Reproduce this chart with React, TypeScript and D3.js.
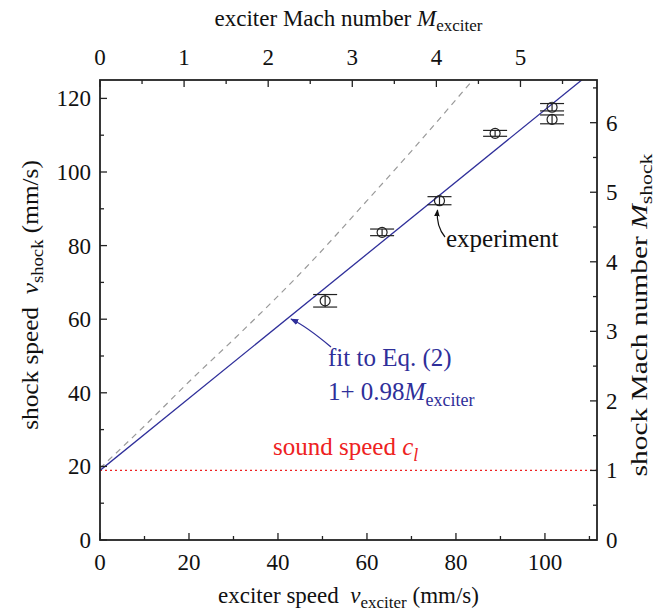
import React from "react";
import * as d3 from "d3";

// ---- data ----
const experimentX = [50.6, 63.4, 76.3, 88.8, 101.6, 101.6];
const experimentY = [65.0, 83.6, 92.2, 110.5, 117.6, 114.3];
const experimentErr = [1.7, 0.9, 1.1, 0.8, 1.0, 1.2];

const soundSpeed = 18.9; // c_l in mm/s
const fitSlope = 0.98;

// gray dashed curve
const dashedX = [0, 10, 20, 31.5, 47.9, 60, 70, 83.5];
const dashedY = [19.5, 31, 43, 56.2, 76.1, 92.2, 105.7, 124.6];

const xTicksMajor = [0, 20, 40, 60, 80, 100];
const xTicksMinor = [10, 30, 50, 70, 90, 110];
const yTicksMajor = [0, 20, 40, 60, 80, 100, 120];
const yTicksMinor = [10, 30, 50, 70, 90, 110];
const topTicksMajor = [0, 1, 2, 3, 4, 5];
const topTicksMinor = [0.5, 1.5, 2.5, 3.5, 4.5, 5.5];
const rightTicksMajor = [0, 1, 2, 3, 4, 5, 6];
const rightTicksMinor = [0.5, 1.5, 2.5, 3.5, 4.5, 5.5, 6.5];

const X_MAX = 111.7;
const Y_MAX = 125;

const W = 661;
const H = 612;
const L = 100, R = 597, T = 80, B = 540;

const FONT = '"Liberation Serif", "Times New Roman", "DejaVu Serif", serif';
const AX = "#222";
const BLUE = "#2f2f9a";
const RED = "#ee2222";

export default function App() {
  const x = d3.scaleLinear().domain([0, X_MAX]).range([L, R]);
  const y = d3.scaleLinear().domain([0, Y_MAX]).range([B, T]);
  const xM = d3.scaleLinear().domain([0, X_MAX / soundSpeed]).range([L, R]);
  const yM = d3.scaleLinear().domain([0, Y_MAX / soundSpeed]).range([B, T]);

  const fitLine = d3.line<number>()
    .x((v) => x(v))
    .y((v) => y(soundSpeed + fitSlope * v));
  const dashed = d3.line<number>()
    .x((_, i) => x(dashedX[i]))
    .y((_, i) => y(dashedY[i]))
    .curve(d3.curveMonotoneX);

  const maj = 7, mn = 4;
  const tickFont = 23;
  const titleFont = 23;
  const subFont = 17;
  const annFont = 25;
  const ts = { fontFamily: FONT };

  return (
    <svg width={W} height={H} style={{ position: "absolute", left: 0, top: 0, fontFamily: FONT }}>
      <defs>
        <clipPath id="plot">
          <rect x={L} y={T} width={R - L} height={B - T} />
        </clipPath>
        <marker id="arrBlack" viewBox="0 0 10 10" refX="9" refY="5" markerWidth="7" markerHeight="7" orient="auto" markerUnits="userSpaceOnUse">
          <path d="M0,1 L10,5 L0,9 z" fill="#111" />
        </marker>
        <marker id="arrBlue" viewBox="0 0 10 10" refX="9" refY="5" markerWidth="8" markerHeight="8" orient="auto" markerUnits="userSpaceOnUse">
          <path d="M0,1 L10,5 L0,9 z" fill={BLUE} />
        </marker>
      </defs>

      <g clipPath="url(#plot)">
        <line x1={x(0)} x2={x(X_MAX)} y1={y(soundSpeed)} y2={y(soundSpeed)} stroke={RED} strokeWidth={1.2} strokeDasharray="2,3" />
        <path d={dashed(dashedX) || ""} fill="none" stroke="#999" strokeWidth={1.2} strokeDasharray="6,5" />
        <path d={fitLine([0, X_MAX]) || ""} fill="none" stroke={BLUE} strokeWidth={1.3} />
      </g>

      {experimentX.map((vx, i) => {
        const cx = x(vx);
        const cy = y(experimentY[i]);
        const top = y(experimentY[i] + experimentErr[i]);
        const bot = y(experimentY[i] - experimentErr[i]);
        return (
          <g key={i} stroke="#222" strokeWidth={1.2} fill="none">
            <line x1={cx} x2={cx} y1={top} y2={bot} />
            <line x1={cx - 12} x2={cx + 12} y1={top} y2={top} />
            <line x1={cx - 12} x2={cx + 12} y1={bot} y2={bot} />
            <circle cx={cx} cy={cy} r={5} fill="none" />
          </g>
        );
      })}

      <rect x={L} y={T} width={R - L} height={B - T} fill="none" stroke={AX} strokeWidth={1.8} />

      {xTicksMajor.map((t) => (
        <g key={"bx" + t}>
          <line x1={x(t)} x2={x(t)} y1={B} y2={B - maj} stroke={AX} strokeWidth={1.3} />
          <text style={ts} x={x(t)} y={570} textAnchor="middle" fontSize={tickFont} fill="#111">{t}</text>
        </g>
      ))}
      {xTicksMinor.map((t) => (
        <line key={"bxm" + t} x1={x(t)} x2={x(t)} y1={B} y2={B - mn} stroke={AX} strokeWidth={1.3} />
      ))}

      {yTicksMajor.map((t) => (
        <g key={"ly" + t}>
          <line x1={L} x2={L + maj} y1={y(t)} y2={y(t)} stroke={AX} strokeWidth={1.3} />
          <text style={ts} x={91} y={y(t) + 8} textAnchor="end" fontSize={tickFont} fill="#111">{t}</text>
        </g>
      ))}
      {yTicksMinor.map((t) => (
        <line key={"lym" + t} x1={L} x2={L + mn} y1={y(t)} y2={y(t)} stroke={AX} strokeWidth={1.3} />
      ))}

      {topTicksMajor.map((t) => (
        <g key={"tx" + t}>
          <line x1={xM(t)} x2={xM(t)} y1={T} y2={T + maj} stroke={AX} strokeWidth={1.3} />
          <text style={ts} x={xM(t)} y={65} textAnchor="middle" fontSize={tickFont} fill="#111">{t}</text>
        </g>
      ))}
      {topTicksMinor.map((t) => (
        <line key={"txm" + t} x1={xM(t)} x2={xM(t)} y1={T} y2={T + mn} stroke={AX} strokeWidth={1.3} />
      ))}

      {rightTicksMajor.map((t) => (
        <g key={"ry" + t}>
          <line x1={R} x2={R - maj} y1={yM(t)} y2={yM(t)} stroke={AX} strokeWidth={1.3} />
          <text style={ts} x={606} y={yM(t) + 8} textAnchor="start" fontSize={tickFont} fill="#111">{t}</text>
        </g>
      ))}
      {rightTicksMinor.map((t) => (
        <line key={"rym" + t} x1={R} x2={R - mn} y1={yM(t)} y2={yM(t)} stroke={AX} strokeWidth={1.3} />
      ))}

      <text style={ts} x={(L + R) / 2} y={26} textAnchor="middle" fontSize={titleFont} fill="#111">
        exciter Mach number <tspan fontStyle="italic">M</tspan>
        <tspan fontSize={subFont} dy={5}>exciter</tspan>
      </text>
      <text style={ts} x={(L + R) / 2} y={603} textAnchor="middle" fontSize={titleFont} fill="#111">
        exciter speed{"\u00A0\u00A0"}<tspan fontStyle="italic">v</tspan>
        <tspan fontSize={subFont} dy={5}>exciter</tspan>
        <tspan dy={-5}> (mm/s)</tspan>
      </text>
      <text style={ts} transform={`translate(38, 295) rotate(-90) scale(1.1, 1)`} textAnchor="middle" fontSize={titleFont} fill="#111">
        shock speed{"\u00A0\u00A0"}<tspan fontStyle="italic">v</tspan>
        <tspan fontSize={subFont} dy={5}>shock</tspan>
        <tspan dy={-5}> (mm/s)</tspan>
      </text>
      <text style={ts} transform={`translate(647, 315) rotate(-90) scale(1.28, 1)`} textAnchor="middle" fontSize={titleFont} fill="#111">
        shock Mach number <tspan fontStyle="italic">M</tspan>
        <tspan fontSize={subFont} dy={5}>shock</tspan>
      </text>

      <path d="M445,237 Q436,226 437.5,210" fill="none" stroke="#111" strokeWidth={1.2} markerEnd="url(#arrBlack)" />
      <text style={ts} x={446} y={247} fontSize={annFont} fill="#111">experiment</text>

      <path d="M331,347 Q306,326 291,319" fill="none" stroke={BLUE} strokeWidth={1.3} markerEnd="url(#arrBlue)" />
      <text style={ts} x={328} y={366} fontSize={annFont} fill={BLUE}>fit to Eq. (2)</text>
      <text style={ts} x={328} y={400} fontSize={annFont} fill={BLUE}>
        1+ 0.98<tspan fontStyle="italic">M</tspan>
        <tspan fontSize={18} dy={6}>exciter</tspan>
      </text>

      <text style={ts} x={273} y={455} fontSize={annFont} fill={RED}>
        sound speed <tspan fontStyle="italic">c</tspan>
        <tspan fontSize={18} fontStyle="italic" dy={6}>l</tspan>
      </text>
    </svg>
  );
}
